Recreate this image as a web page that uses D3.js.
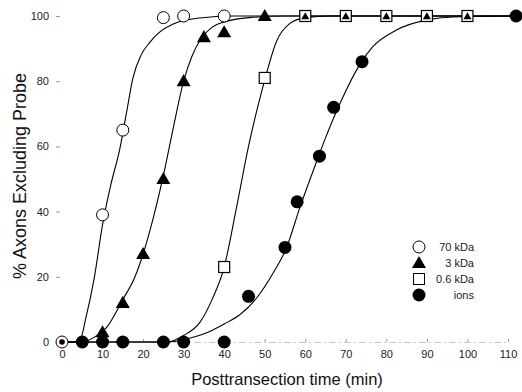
<html>
<head>
<script src="https://cdn.jsdelivr.net/npm/d3@7"></script>
<style>
  body { margin: 0; background: #fff; }
  text { font-family: "Liberation Sans", Arial, sans-serif; }
</style>
</head>
<body>
<svg id="chart" width="522" height="392"></svg>
<script>
// measured points
const time70 = [0, 10, 15, 25, 30, 40]
const pct70 = [0, 39, 65, 99.5, 100, 100]
const time3 = [10, 15, 20, 25, 30, 35, 40, 50, 60, 70, 80, 90, 100]
const pct3 = [3, 12, 27, 50, 80, 93.5, 95, 100, 100, 100, 100, 100, 100]
const time06 = [40, 50, 60, 70, 80, 90, 100]
const pct06 = [23, 81, 100, 100, 100, 100, 100]
const timeIons = [5, 10, 15, 25, 30, 40, 46, 55, 58, 63.5, 67, 74, 112]
const pctIons = [0, 0, 0, 0, 0, 0, 14, 29, 43, 57, 72, 86, 100]
const timeDot = [0]
const pctDot = [0]

// fitted curves
const fitTime70 = [0, 4.2, 6, 8, 10, 12, 14.3, 16, 17.5, 19.5, 21.7, 24, 27.3, 34, 42, 112]
const fitPct70 = [0, 0, 8, 20, 36, 48, 59.5, 71, 81, 88, 92, 95, 97.5, 99.4, 100, 100]
const fitTime3 = [0, 5, 8, 11, 15, 18, 20, 22.5, 25, 27.5, 30, 32, 34, 37, 41, 47, 55, 112]
const fitPct3 = [0, 0, 1.5, 4.5, 13, 20, 27, 38, 51, 66, 80, 87.5, 92.5, 96.5, 98.5, 99.6, 100, 100]
const fitTime06 = [0, 26, 30, 34, 37, 40, 43, 46, 49.5, 53, 56, 60, 66, 112]
const fitPct06 = [0, 0, 2, 6, 13, 23, 41, 60, 78, 92.5, 97.5, 99.5, 100, 100]
const fitTimeIons = [0, 26, 31, 36, 40, 44, 48, 52, 55.4, 58.6, 61.8, 64.8, 68.5, 73.4, 76.6, 82.5, 90, 96.3, 112]
const fitPctIons = [0, 0, 1, 3, 5.5, 8.5, 13.5, 21, 29, 41, 52, 62, 73, 85, 90.5, 95.7, 98.8, 99.7, 100]

const xTicks = [0, 10, 20, 30, 40, 50, 60, 70, 80, 90, 100, 110]
const yTicks = [0, 20, 40, 60, 80, 100]
const legendNames = ["70 kDa", "3 kDa", "0.6 kDa", "ions"]

let svg = d3.select("#chart")
let x = d3.scaleLinear().domain([0, 110]).range([62, 508])
let y = d3.scaleLinear().domain([0, 100]).range([342, 16])

let pairs = (ts, ps) => ts.map((t, i) => [t, ps[i]])

// x axis: faint line, tiny ticks
let xAxis = d3.axisBottom(x).tickValues(xTicks).tickSize(-3).tickPadding(8)
let gx = svg.append("g").attr("transform", "translate(0," + y(0) + ")").call(xAxis)
gx.select(".domain").attr("stroke", "#c8c8c8").attr("stroke-dasharray", "7,3,2,3")
gx.selectAll(".tick line").attr("stroke", "#999")
gx.selectAll("text").attr("font-size", 11).attr("fill", "#222")
  .attr("font-family", "Liberation Sans, Arial, sans-serif")

let yAxis = d3.axisLeft(y).tickValues(yTicks).tickSize(4).tickPadding(7)
let gy = svg.append("g").attr("transform", "translate(60,0)").call(yAxis)
gy.select(".domain").remove()
gy.selectAll(".tick line").attr("stroke", "#999")
gy.selectAll("text").attr("font-size", 11).attr("fill", "#222")
  .attr("font-family", "Liberation Sans, Arial, sans-serif")

svg.append("text").text("Posttransection time (min)")
  .attr("x", 287).attr("y", 385).attr("text-anchor", "middle")
  .attr("font-size", 16.5).attr("fill", "#111")

svg.append("text").text("% Axons Excluding Probe")
  .attr("text-anchor", "middle").attr("font-size", 18).attr("fill", "#111")
  .attr("transform", "translate(26,176) rotate(-90)")

// fitted curves
let line = d3.line().x(d => x(d[0])).y(d => y(d[1])).curve(d3.curveMonotoneX)
let fits = [pairs(fitTime70, fitPct70), pairs(fitTime3, fitPct3), pairs(fitTime06, fitPct06), pairs(fitTimeIons, fitPctIons)]
svg.append("g").selectAll("path").data(fits).enter().append("path")
  .attr("d", line).attr("fill", "none").attr("stroke", "#000").attr("stroke-width", 1.1)

// markers
let tri = d3.symbol().type(d3.symbolTriangle)
let pts06 = pairs(time06, pct06)
let insideSquare = d => pts06.some(p => p[0] == d[0] && p[1] == d[1])

svg.append("g").selectAll("circle").data(pairs(timeIons, pctIons)).enter().append("circle")
  .attr("cx", d => x(d[0])).attr("cy", d => y(d[1])).attr("r", 6.5).attr("fill", "#000")

svg.append("g").selectAll("circle").data(pairs(time70, pct70)).enter().append("circle")
  .attr("cx", d => x(d[0])).attr("cy", d => y(d[1])).attr("r", 6)
  .attr("fill", "#fff").attr("stroke", "#000").attr("stroke-width", 1)

svg.append("g").selectAll("circle").data(pairs(timeDot, pctDot)).enter().append("circle")
  .attr("cx", d => x(d[0])).attr("cy", d => y(d[1])).attr("r", 2.8).attr("fill", "#000")

svg.append("g").selectAll("rect").data(pts06).enter().append("rect")
  .attr("x", d => x(d[0]) - 5.5).attr("y", d => y(d[1]) - 5.5)
  .attr("width", 11).attr("height", 11)
  .attr("fill", "#fff").attr("stroke", "#000").attr("stroke-width", 1.2)

svg.append("g").selectAll("path").data(pairs(time3, pct3)).enter().append("path")
  .attr("d", d => tri.size(insideSquare(d) ? 28 : 85)())
  .attr("transform", d => "translate(" + x(d[0]) + "," + (y(d[1]) + 1) + ")")
  .attr("fill", "#000")

// legend
let legend = svg.append("g")
let rowY = d3.scalePoint().domain(legendNames).range([247, 295])
legend.selectAll("text").data(legendNames).enter().append("text")
  .text(d => d).attr("x", 474).attr("y", d => rowY(d) + 4)
  .attr("text-anchor", "end").attr("font-size", 11).attr("fill", "#222")
legend.append("circle").attr("cx", 419).attr("cy", rowY("70 kDa")).attr("r", 6)
  .attr("fill", "#fff").attr("stroke", "#000")
legend.append("path").attr("d", tri.size(85)())
  .attr("transform", "translate(419," + (rowY("3 kDa") + 1) + ")")
legend.append("rect").attr("x", 413.5).attr("y", rowY("0.6 kDa") - 5.5)
  .attr("width", 11).attr("height", 11).attr("fill", "#fff").attr("stroke", "#000")
legend.append("circle").attr("cx", 419).attr("cy", rowY("ions")).attr("r", 6.5).attr("fill", "#000")
</script>
</body>
</html>
